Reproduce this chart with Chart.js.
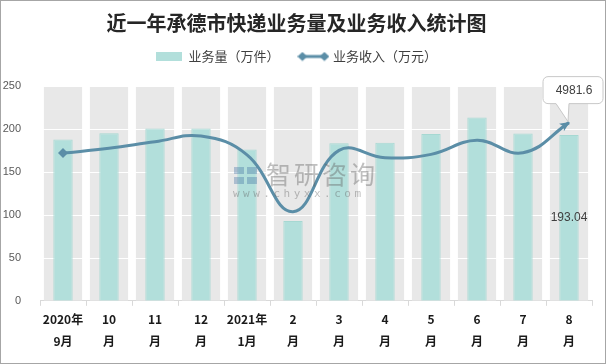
<!DOCTYPE html>
<html>
<head>
<meta charset="utf-8">
<script src="https://cdn.jsdelivr.net/npm/chart.js@4.4.1/dist/chart.umd.min.js"></script>
<style>
  body { margin: 0; background: #fff; }
  #marco { width: 604px; height: 362px; border: 1px solid #a6a6a6; }
</style>
</head>
<body>
<div id="marco"><canvas id="grafico" width="604" height="362"></canvas></div>
<script>
// datos
const meses = [["2020年", "9月"], ["10", "月"], ["11", "月"], ["12", "月"], ["2021年", "1月"], ["2", "月"],
               ["3", "月"], ["4", "月"], ["5", "月"], ["6", "月"], ["7", "月"], ["8", "月"]];
const volumen = [188, 195.3, 200.8, 200.8, 176.4, 93, 183.4, 184.1, 194.2, 213.6, 195, 193.04];   // 万件
const ingresos = [4130, 4262, 4445, 4606, 4080, 2491, 4205, 3998, 4094, 4486, 4138, 4981.6];     // 万元
const fondo = [250, 250, 250, 250, 250, 250, 250, 250, 250, 250, 250, 250];
const ejeMax = 250;
const ejeMaxIngresos = 6000;

const FUENTE = "'Noto Sans CJK SC', 'Noto Sans', sans-serif";
const COLOR_LINEA = "#5b8ea7";
const COLOR_BARRA = "#b2dfdb";

// iconos de la leyenda
function iconoBarra() {
  let c = document.createElement("canvas");
  c.width = 26; c.height = 9;
  let g = c.getContext("2d");
  g.fillStyle = COLOR_BARRA;
  g.fillRect(0, 0, 26, 9);
  return c;
}
function iconoLinea() {
  let c = document.createElement("canvas");
  c.width = 32; c.height = 10;
  let g = c.getContext("2d");
  g.strokeStyle = COLOR_LINEA;
  g.fillStyle = COLOR_LINEA;
  g.lineWidth = 3;
  g.beginPath(); g.moveTo(5, 5); g.lineTo(27, 5); g.stroke();
  [5, 27].forEach(function (x) {
    g.beginPath();
    g.moveTo(x - 5, 5); g.lineTo(x, 0.5); g.lineTo(x + 5, 5); g.lineTo(x, 9.5);
    g.closePath(); g.fill();
  });
  return c;
}
const iconos = { 1: iconoBarra(), 2: iconoLinea() };

// lineas blancas de la cuadricula sobre las bandas grises
const pluginCuadricula = {
  id: "cuadricula",
  afterDatasetDraw(chart, args) {
    if (args.index !== 0) return;
    const ctx = chart.ctx, area = chart.chartArea, y = chart.scales.y;
    ctx.save();
    ctx.strokeStyle = "#ffffff";
    ctx.lineWidth = 1;
    y.ticks.forEach(function (t) {
      if (t.value === 0) return;
      const py = Math.round(y.getPixelForValue(t.value)) + 0.5;
      ctx.beginPath(); ctx.moveTo(area.left, py); ctx.lineTo(area.right, py); ctx.stroke();
    });
    ctx.restore();
  }
};

// flecha final, etiqueta de la barra y globo del ultimo valor
const pluginEtiquetas = {
  id: "etiquetas",
  afterDatasetsDraw(chart) {
    const ctx = chart.ctx;
    const ultimo = ingresos.length - 1;
    const linea = chart.getDatasetMeta(2).data;
    const p = linea[ultimo];

    // punta de flecha
    const ang = Math.atan2(p.y - p.cp1y, p.x - p.cp1x);
    ctx.save();
    ctx.fillStyle = COLOR_LINEA;
    ctx.translate(p.x, p.y);
    ctx.rotate(ang);
    ctx.beginPath();
    ctx.moveTo(1, 0); ctx.lineTo(-9, -4.5); ctx.lineTo(-6.5, 0); ctx.lineTo(-9, 4.5);
    ctx.closePath(); ctx.fill();
    ctx.restore();

    // valor de la ultima barra
    const b = chart.getDatasetMeta(1).data[ultimo];
    ctx.save();
    ctx.fillStyle = "#404040";
    ctx.font = "12px 'Liberation Sans', " + FUENTE;
    ctx.textAlign = "center";
    ctx.textBaseline = "middle";
    ctx.fillText(volumen[ultimo].toFixed(2), b.x, (b.y + b.base) / 2);
    ctx.restore();

    // globo
    const l = p.x - 26, r = p.x + 34, t = p.y - 46, btm = p.y - 19, rad = 5;
    ctx.save();
    ctx.fillStyle = "#ffffff";
    ctx.strokeStyle = "#c8c8c8";
    ctx.lineWidth = 1;
    ctx.beginPath();
    ctx.moveTo(l + rad, t);
    ctx.lineTo(r - rad, t); ctx.arcTo(r, t, r, t + rad, rad);
    ctx.lineTo(r, btm - rad); ctx.arcTo(r, btm, r - rad, btm, rad);
    ctx.lineTo(p.x, btm);
    ctx.lineTo(p.x - 1, p.y - 1);
    ctx.lineTo(p.x - 13, btm);
    ctx.lineTo(l + rad, btm); ctx.arcTo(l, btm, l, btm - rad, rad);
    ctx.lineTo(l, t + rad); ctx.arcTo(l, t, l + rad, t, rad);
    ctx.closePath();
    ctx.fill(); ctx.stroke();
    ctx.fillStyle = "#404040";
    ctx.font = "12px 'Liberation Sans', " + FUENTE;
    ctx.textAlign = "center";
    ctx.textBaseline = "middle";
    ctx.fillText(String(ingresos[ultimo]), (l + r) / 2 + 1, (t + btm) / 2 + 1);
    ctx.restore();
  },
  afterDraw(chart) {
    // marca de agua
    const ctx = chart.ctx;
    ctx.save();
    ctx.fillStyle = "rgba(95,95,95,0.4)";
    ctx.textBaseline = "middle";
    ctx.font = "25px " + FUENTE;
    ctx.letterSpacing = "3px";
    ctx.fillText("智研咨询", 265, 173);
    ctx.font = "11px 'DejaVu Sans Mono', monospace";
    ctx.letterSpacing = "3.5px";
    ctx.fillText("www.chyxx.com", 232, 193);
    ctx.fillStyle = "rgba(60,110,160,0.35)";
    ctx.fillRect(233, 166, 10, 7);
    ctx.fillRect(246, 166, 10, 7);
    ctx.fillRect(233, 176, 10, 7);
    ctx.fillRect(246, 176, 10, 7);
    ctx.restore();
  }
};

const ctx = document.getElementById("grafico").getContext("2d");

const miGrafico = new Chart(ctx, {
  type: "bar",
  data: {
    labels: meses,
    datasets: [
      {
        label: "fondo",
        data: fondo,
        backgroundColor: "#e8e8e8",
        barPercentage: 0.83,
        categoryPercentage: 1,
        grouped: false,
        order: 3
      },
      {
        label: "业务量（万件）",
        data: volumen,
        backgroundColor: COLOR_BARRA,
        borderColor: "#a6d8d2",
        borderWidth: 1,
        barPercentage: 0.42,
        categoryPercentage: 1,
        grouped: false,
        order: 2
      },
      {
        type: "line",
        label: "业务收入（万元）",
        data: ingresos,
        yAxisID: "y2",
        borderColor: COLOR_LINEA,
        backgroundColor: COLOR_LINEA,
        borderWidth: 3,
        tension: 0.42,
        pointStyle: "rectRot",
        pointRadius: ingresos.map(function (v, i) { return i === 0 ? 5 : 0; }),
        pointBorderWidth: 0,
        clip: false,
        order: 1
      }
    ]
  },
  options: {
    responsive: false,
    animation: false,
    devicePixelRatio: 1,
    layout: { padding: { left: 0, right: 13, top: 0, bottom: 8 } },
    plugins: {
      title: {
        display: true,
        text: "近一年承德市快递业务量及业务收入统计图",
        color: "#262626",
        font: { size: 20, weight: "bold", family: FUENTE },
        padding: { top: 10, bottom: 0 }
      },
      // espacio entre la leyenda y el area del grafico
      subtitle: {
        display: true,
        text: "",
        weight: 500,
        font: { size: 1 },
        padding: { top: 12, bottom: 0 }
      },
      legend: {
        labels: {
          usePointStyle: true,
          pointStyleWidth: 26,
          padding: 15,
          color: "#404040",
          font: { size: 13, family: FUENTE },
          filter: function (item) { return item.datasetIndex !== 0; },
          generateLabels: function (chart) {
            let items = Chart.defaults.plugins.legend.labels.generateLabels(chart);
            items.sort(function (a, b) { return a.datasetIndex - b.datasetIndex; });
            items.forEach(function (it) {
              if (iconos[it.datasetIndex]) it.pointStyle = iconos[it.datasetIndex];
              if (it.datasetIndex === 1) it.text = it.text + "  ";
            });
            return items;
          }
        }
      },
      tooltip: { enabled: false }
    },
    scales: {
      x: {
        grid: { offset: true, drawOnChartArea: false, drawTicks: true, tickLength: 5, color: "#d9d9d9" },
        border: { color: "#d9d9d9" },
        ticks: {
          color: "#1a1a1a",
          font: { size: 12, weight: "bold", family: FUENTE, lineHeight: 1.8 },
          padding: 3,
          maxRotation: 0,
          autoSkip: false
        }
      },
      y: {
        min: 0,
        max: ejeMax,
        grid: { display: false },
        border: { display: false },
        ticks: {
          stepSize: 50,
          padding: 11,
          color: "#595959",
          font: { size: 11, family: "'Liberation Sans', sans-serif" }
        },
        afterFit: function (s) { s.width = 39; }
      },
      y2: {
        display: false,
        min: 0,
        max: ejeMaxIngresos
      }
    }
  },
  plugins: [pluginCuadricula, pluginEtiquetas]
});
</script>
</body>
</html>
